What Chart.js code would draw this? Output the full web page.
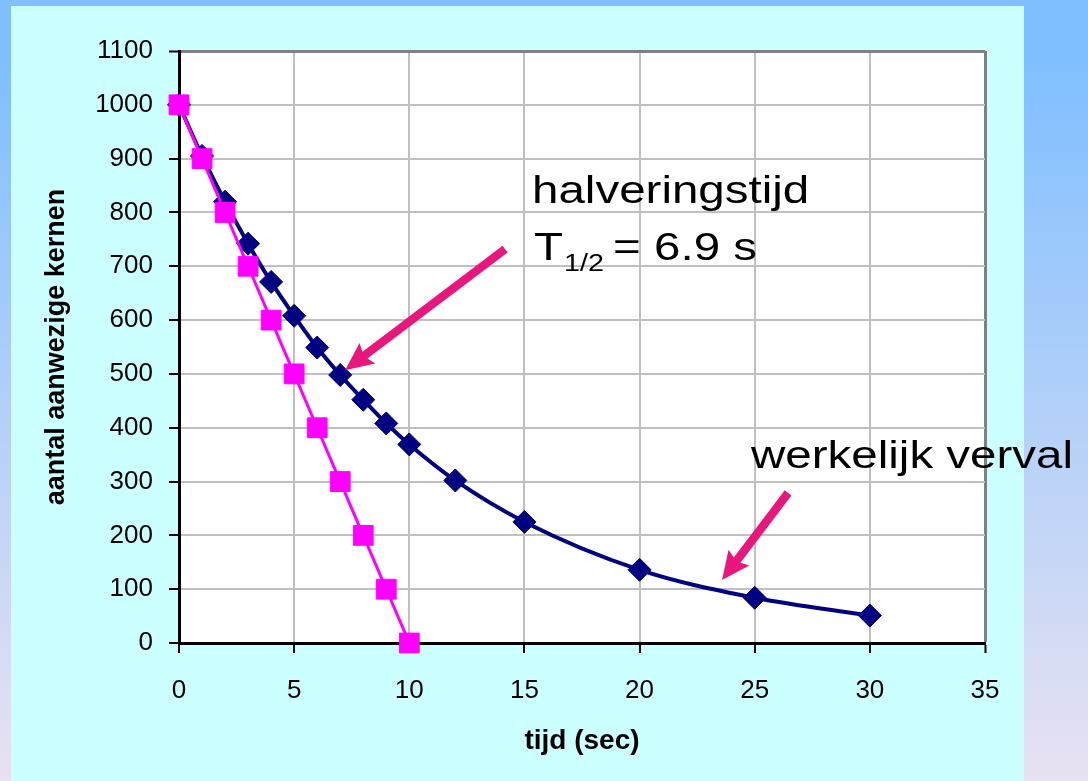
<!DOCTYPE html>
<html>
<head>
<meta charset="utf-8">
<script src="https://cdn.jsdelivr.net/npm/chart.js@4"></script>
<style>
  html, body { margin: 0; padding: 0; width: 1088px; height: 781px; overflow: hidden; }
  body { position: relative; background: linear-gradient(to bottom, #80BFFF 0%, #80BFFF 8%, #E8E2F2 100%); }
  #paneel { position: absolute; left: 11px; top: 6px; width: 1013px; height: 775px; background: #CCFFFF; }
  #houder { position: absolute; left: 0; top: 0; width: 1088px; height: 781px; }
</style>
</head>
<body>
<div id="paneel"></div>
<div id="houder"><canvas id="grafiek" width="1088" height="781"></canvas></div>
<script>
// Radioactief verval: gemeten aantal kernen tegen de tijd
const tijd = [0, 1, 2, 3, 4, 5, 6, 7, 8, 9, 10, 12, 15, 20, 25, 30];
const werkelijk = [1000, 905, 820, 742, 671, 608, 549, 498, 452, 408, 369, 302, 225, 136, 84, 51];

// Lineaire afname ter vergelijking
const tijdLineair = [0, 1, 2, 3, 4, 5, 6, 7, 8, 9, 10];
const lineair = [1000, 900, 800, 700, 600, 500, 400, 300, 200, 100, 0];

// As-instellingen
const xTicks = { min: 0, max: 35, stap: 5 };
const yTicks = { min: 0, max: 1100, stap: 100 };

// Pijlen en teksten (in as-eenheden: [tijd, aantal])
const pijlen = [
  { van: [14.16, 732], naar: [7.21, 507] },
  { van: [26.45, 279], naar: [23.58, 117] }
];
const tekstHalvering = { tekst: 'halveringstijd', pos: [15.33, 818] };
const tekstT = { hoofd: 'T', sub: '1/2', rest: '= 6.9 s', pos: [15.42, 712] };
const tekstVerval = { tekst: 'werkelijk verval', pos: [24.84, 325] };

const FONT = '"Liberation Sans", Arial, sans-serif';
const ROZE = '#E9177C';
const REK = 1.25;

function punten(xs, ys) { return xs.map((t, i) => ({ x: t, y: ys[i] })); }

function tekenPijl(ctx, x0, y0, x1, y1) {
  const dx = x1 - x0, dy = y1 - y0, len = Math.hypot(dx, dy);
  const ux = dx / len, uy = dy / len, nx = -uy, ny = ux;
  const kop = 25, breed = 13, schacht = 4.2;
  const bx = x1 - ux * kop, by = y1 - uy * kop;
  ctx.beginPath();
  ctx.moveTo(x0 + nx * schacht, y0 + ny * schacht);
  ctx.lineTo(bx + nx * schacht, by + ny * schacht);
  ctx.lineTo(bx - ux * 3 + nx * breed, by - uy * 3 + ny * breed);
  ctx.lineTo(x1, y1);
  ctx.lineTo(bx - ux * 3 - nx * breed, by - uy * 3 - ny * breed);
  ctx.lineTo(bx - nx * schacht, by - ny * schacht);
  ctx.lineTo(x0 - nx * schacht, y0 - ny * schacht);
  ctx.closePath();
  ctx.fill();
}

function tekenTekst(ctx, s, px, py, size) {
  ctx.save();
  ctx.font = size + 'px ' + FONT;
  ctx.textBaseline = 'alphabetic';
  ctx.textAlign = 'left';
  ctx.translate(px, py);
  ctx.scale(REK, 1);
  ctx.fillText(s, 0, 0);
  const w = ctx.measureText(s).width * REK;
  ctx.restore();
  return w;
}

const achtergrondPlugin = {
  id: 'plotAchtergrond',
  beforeDraw(chart) {
    const { ctx, chartArea: a } = chart;
    ctx.save();
    ctx.fillStyle = '#FFFFFF';
    ctx.fillRect(a.left, a.top, a.right - a.left, a.bottom - a.top);
    ctx.restore();
  }
};

const annotatiePlugin = {
  id: 'annotaties',
  afterDraw(chart) {
    const { ctx, scales: { x, y } } = chart;
    ctx.save();
    ctx.fillStyle = ROZE;
    pijlen.forEach(p => tekenPijl(ctx,
      x.getPixelForValue(p.van[0]), y.getPixelForValue(p.van[1]),
      x.getPixelForValue(p.naar[0]), y.getPixelForValue(p.naar[1])));
    ctx.fillStyle = '#000000';
    tekenTekst(ctx, tekstHalvering.tekst,
      x.getPixelForValue(tekstHalvering.pos[0]), y.getPixelForValue(tekstHalvering.pos[1]), 38);
    let tx = x.getPixelForValue(tekstT.pos[0]);
    const ty = y.getPixelForValue(tekstT.pos[1]);
    tx += tekenTekst(ctx, tekstT.hoofd, tx, ty, 38);
    tx += tekenTekst(ctx, tekstT.sub, tx + 1, ty + 11, 23) + 10;
    tekenTekst(ctx, tekstT.rest, tx, ty, 38);
    tekenTekst(ctx, tekstVerval.tekst,
      x.getPixelForValue(tekstVerval.pos[0]), y.getPixelForValue(tekstVerval.pos[1]), 38);
    ctx.restore();
  }
};

const rasterKleur = (rand) => (c) => (c.tick && c.tick.value === rand ? '#808080' : '#C0C0C0');
const rasterDikte = (rand) => (c) => (c.tick && c.tick.value === rand ? 3 : 2);
const zonderScheiding = (v) => String(v);

new Chart(document.getElementById('grafiek'), {
  type: 'line',
  data: {
    datasets: [
      {
        label: 'lineair',
        data: punten(tijdLineair, lineair),
        borderColor: '#FF00FF',
        backgroundColor: '#FF00FF',
        borderWidth: 3,
        pointStyle: 'rect',
        pointRadius: 14,
        pointBorderWidth: 1,
        pointBorderColor: '#FF00FF',
        tension: 0,
        clip: false,
        order: 1
      },
      {
        label: 'werkelijk verval',
        data: punten(tijd, werkelijk),
        borderColor: '#000080',
        backgroundColor: '#000080',
        borderWidth: 4,
        pointStyle: 'rectRot',
        pointRadius: 11.5,
        pointBorderWidth: 1,
        pointBorderColor: '#000080',
        cubicInterpolationMode: 'monotone',
        clip: false,
        order: 2
      }
    ]
  },
  options: {
    responsive: false,
    devicePixelRatio: 1,
    animation: false,
    layout: { padding: { left: 0, top: 51, right: 103, bottom: 0 } },
    plugins: { legend: { display: false }, tooltip: { enabled: false } },
    scales: {
      x: {
        type: 'linear',
        min: xTicks.min, max: xTicks.max,
        ticks: { stepSize: xTicks.stap, color: '#000', padding: 22, font: { family: FONT, size: 26 }, callback: zonderScheiding },
        grid: { color: rasterKleur(xTicks.max), lineWidth: rasterDikte(xTicks.max), tickColor: '#000', tickLength: 10, tickWidth: 2 },
        border: { color: '#000', width: 3 },
        title: { display: true, text: 'tijd (sec)', color: '#000', font: { family: FONT, size: 28, weight: 'bold' }, padding: { top: 0, bottom: 23 } },
        afterFit(s) { s.height = 138; }
      },
      y: {
        type: 'linear',
        min: yTicks.min, max: yTicks.max,
        ticks: { stepSize: yTicks.stap, color: '#000', padding: 16, font: { family: FONT, size: 26 }, callback: zonderScheiding },
        grid: { color: rasterKleur(yTicks.max), lineWidth: rasterDikte(yTicks.max), tickColor: '#000', tickLength: 10, tickWidth: 2 },
        border: { color: '#000', width: 3 },
        title: { display: true, text: 'aantal aanwezige kernen', color: '#000', font: { family: FONT, size: 27, weight: 'bold' }, padding: { top: 40, bottom: 0 } },
        afterFit(s) { s.width = 179; }
      }
    }
  },
  plugins: [achtergrondPlugin, annotatiePlugin]
});
</script>
</body>
</html>
